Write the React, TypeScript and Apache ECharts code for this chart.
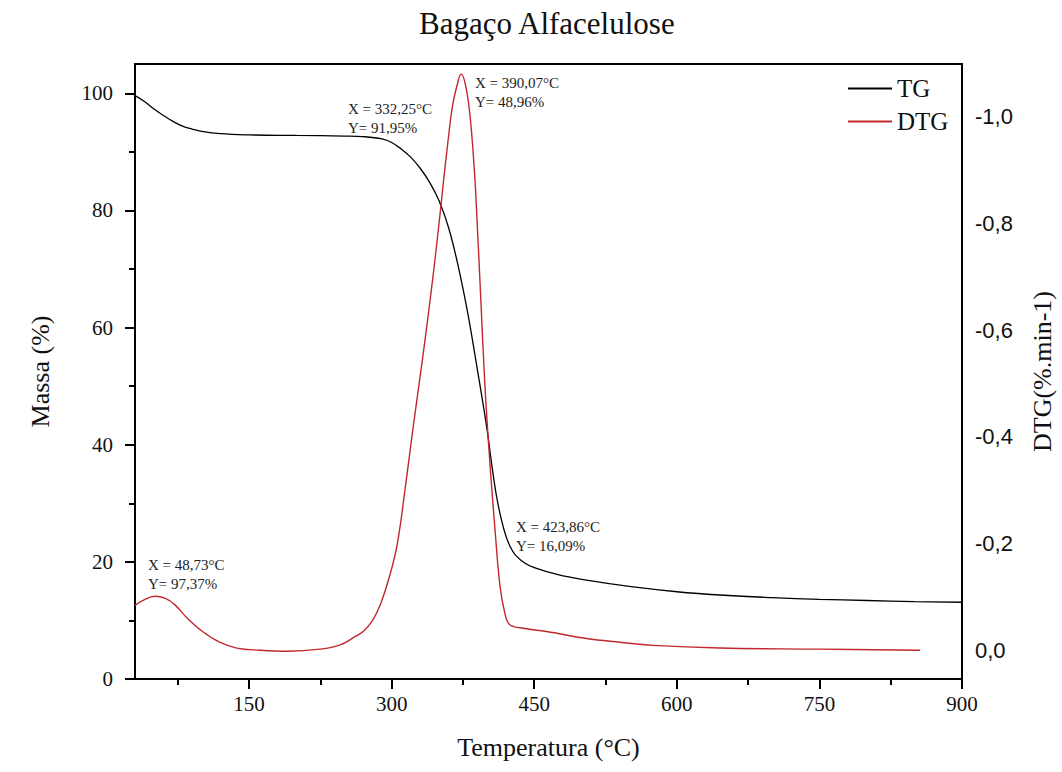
import React, { useEffect, useRef } from 'react';
import * as echarts from 'echarts';

// ---- data ----
const TG_TEMP = [30, 40, 50, 60, 70, 80, 90, 100, 120, 150, 200, 250, 270, 290, 300, 310, 320, 330, 340, 350, 360, 370, 380, 390, 400, 405, 410, 415, 420, 425, 430, 440, 450, 475, 500, 550, 600, 650, 700, 750, 800, 850, 900];
const TG_MASS = [99.6, 98.6, 97.3, 96.2, 95.2, 94.4, 93.9, 93.5, 93.1, 92.9, 92.8, 92.7, 92.6, 92.2, 91.6, 90.5, 89.1, 87.2, 84.8, 81.6, 77.0, 70.5, 62.5, 53.0, 43.0, 37.0, 31.5, 27.5, 24.5, 22.5, 21.2, 19.8, 19.0, 17.8, 17.0, 15.8, 14.9, 14.3, 13.9, 13.6, 13.4, 13.2, 13.1];

const DTG_TEMP = [30, 40, 51, 62, 72, 85, 101, 119, 137, 161, 190, 225, 246, 261, 270, 280, 288, 298, 306, 314, 322, 332, 340, 348, 354, 359, 364, 369, 373, 377, 382, 387, 390, 394, 398, 403, 409, 414, 419, 424, 435, 463, 505, 540, 575, 645, 750, 856];
const DTG_VAL = [-0.084, -0.095, -0.101, -0.097, -0.085, -0.06, -0.035, -0.015, -0.004, 0.0, 0.002, -0.002, -0.01, -0.025, -0.035, -0.056, -0.085, -0.14, -0.2, -0.3, -0.41, -0.54, -0.65, -0.77, -0.87, -0.95, -1.02, -1.06, -1.08, -1.065, -1.01, -0.9, -0.8, -0.65, -0.5, -0.36, -0.22, -0.12, -0.07, -0.048, -0.042, -0.035, -0.022, -0.015, -0.009, -0.004, -0.002, 0.0];

const X_MAJOR = [150, 300, 450, 600, 750, 900];
const X_MINOR = [75, 225, 375, 525, 675, 825];
const Y_MAJOR = [0, 20, 40, 60, 80, 100];
const Y_MINOR = [10, 30, 50, 70, 90];
const DTG_TICKS = [-1.0, -0.8, -0.6, -0.4, -0.2, 0.0];

const ANNOTATIONS = [
  'X = 48,73°C\nY= 97,37%',
  'X = 332,25°C\nY= 91,95%',
  'X = 390,07°C\nY= 48,96%',
  'X = 423,86°C\nY= 16,09%',
];

const SERIF = '"Liberation Serif", "Times New Roman", serif';
const SANS = '"Liberation Sans", Arial, sans-serif';

export default function App() {
  const ref = useRef<HTMLDivElement>(null);

  useEffect(() => {
    const chart = echarts.init(ref.current!, null, { renderer: 'svg' });
    const annPos = [
      [148, 555],
      [348, 99],
      [475, 73],
      [516, 517],
    ];
    const option: any = {
      animation: false,
      backgroundColor: '#fff',
      title: {
        text: 'Bagaço Alfacelulose',
        left: 414,
        top: 3,
        textStyle: { fontFamily: SERIF, fontSize: 31, fontWeight: 'normal', color: '#111' },
      },
      legend: {
        orient: 'vertical',
        left: 842,
        top: 71,
        itemWidth: 44,
        itemHeight: 14,
        itemGap: 8,
        itemStyle: { opacity: 0 },
        textStyle: { fontFamily: SERIF, fontSize: 25, color: '#111' },
        data: ['TG', 'DTG'],
      },
      grid: {
        left: 135,
        right: 100,
        top: 64,
        bottom: 93,
        show: true,
        borderColor: '#000',
        borderWidth: 2,
        containLabel: false,
        outerBoundsMode: 'none',
      },
      xAxis: [
        {
          type: 'value',
          min: 30,
          max: 900,
          position: 'bottom',
          axisLine: { show: true, lineStyle: { color: '#000', width: 2 } },
          axisTick: { show: true, length: 10, lineStyle: { color: '#000', width: 2 }, customValues: X_MAJOR },
          axisLabel: { customValues: X_MAJOR, fontFamily: SERIF, fontSize: 21, color: '#111', margin: 14 },
          splitLine: { show: false },
          name: 'Temperatura (°C)',
          nameLocation: 'middle',
          nameGap: 55,
          nameTextStyle: { fontFamily: SERIF, fontSize: 26, color: '#111' },
        },
        {
          type: 'value',
          min: 30,
          max: 900,
          position: 'bottom',
          axisLine: { show: false },
          axisTick: { show: true, length: 6, lineStyle: { color: '#000', width: 2 }, customValues: X_MINOR },
          axisLabel: { show: false },
          splitLine: { show: false },
        },
      ],
      yAxis: [
        {
          type: 'value',
          min: 0,
          max: 105,
          position: 'left',
          axisLine: { show: true, lineStyle: { color: '#000', width: 2 } },
          axisTick: { show: true, length: 10, lineStyle: { color: '#000', width: 2 }, customValues: Y_MAJOR },
          axisLabel: { customValues: Y_MAJOR, fontFamily: SERIF, fontSize: 21, color: '#111', margin: 22 },
          splitLine: { show: false },
          name: 'Massa (%)',
          nameLocation: 'middle',
          nameGap: 82,
          nameRotate: 90,
          nameTextStyle: { fontFamily: SERIF, fontSize: 26, color: '#111' },
        },
        {
          type: 'value',
          min: 0,
          max: 105,
          position: 'left',
          axisLine: { show: false },
          axisTick: { show: true, length: 6, lineStyle: { color: '#000', width: 2 }, customValues: Y_MINOR },
          axisLabel: { show: false },
          splitLine: { show: false },
        },
        {
          type: 'value',
          min: -1.099,
          max: 0.054,
          inverse: true,
          position: 'right',
          axisLine: { show: true, lineStyle: { color: '#000', width: 2 } },
          axisTick: { show: false },
          axisLabel: {
            customValues: DTG_TICKS,
            formatter: (v: number) => v.toFixed(1).replace('.', ','),
            fontFamily: SANS,
            fontSize: 22,
            color: '#111',
            margin: 13,
          },
          splitLine: { show: false },
          name: 'DTG(%.min-1)',
          nameLocation: 'middle',
          nameGap: 67,
          nameRotate: 90,
          nameTextStyle: { fontFamily: SERIF, fontSize: 26, color: '#111' },
        },
      ],
      series: [
        {
          name: 'TG',
          type: 'line',
          xAxisIndex: 0,
          yAxisIndex: 0,
          data: TG_TEMP.map((t, i) => [t, TG_MASS[i]]),
          symbol: 'none',
          showSymbol: false,
          smooth: 0.4,
          lineStyle: { color: '#000', width: 1.3 },
          itemStyle: { color: '#000' },
        },
        {
          name: 'DTG',
          type: 'line',
          xAxisIndex: 0,
          yAxisIndex: 2,
          data: DTG_TEMP.map((t, i) => [t, DTG_VAL[i]]),
          symbol: 'none',
          showSymbol: false,
          smooth: 0.4,
          lineStyle: { color: '#c1272d', width: 1.4 },
          itemStyle: { color: '#c1272d' },
        },
      ],
      graphic: ANNOTATIONS.map((txt, i) => ({
        type: 'text',
        x: annPos[i][0],
        y: annPos[i][1],
        z: 100,
        style: {
          text: txt,
          font: `15px ${SERIF}`,
          fill: '#222',
          lineHeight: 19,
          verticalAlign: 'top',
          align: 'left',
        },
      })),
    };
    chart.setOption(option);
    return () => chart.dispose();
  }, []);

  return (
    <div
      ref={ref}
      style={{ position: 'fixed', left: 0, top: 0, width: 1062, height: 772, background: '#fff' }}
    />
  );
}
